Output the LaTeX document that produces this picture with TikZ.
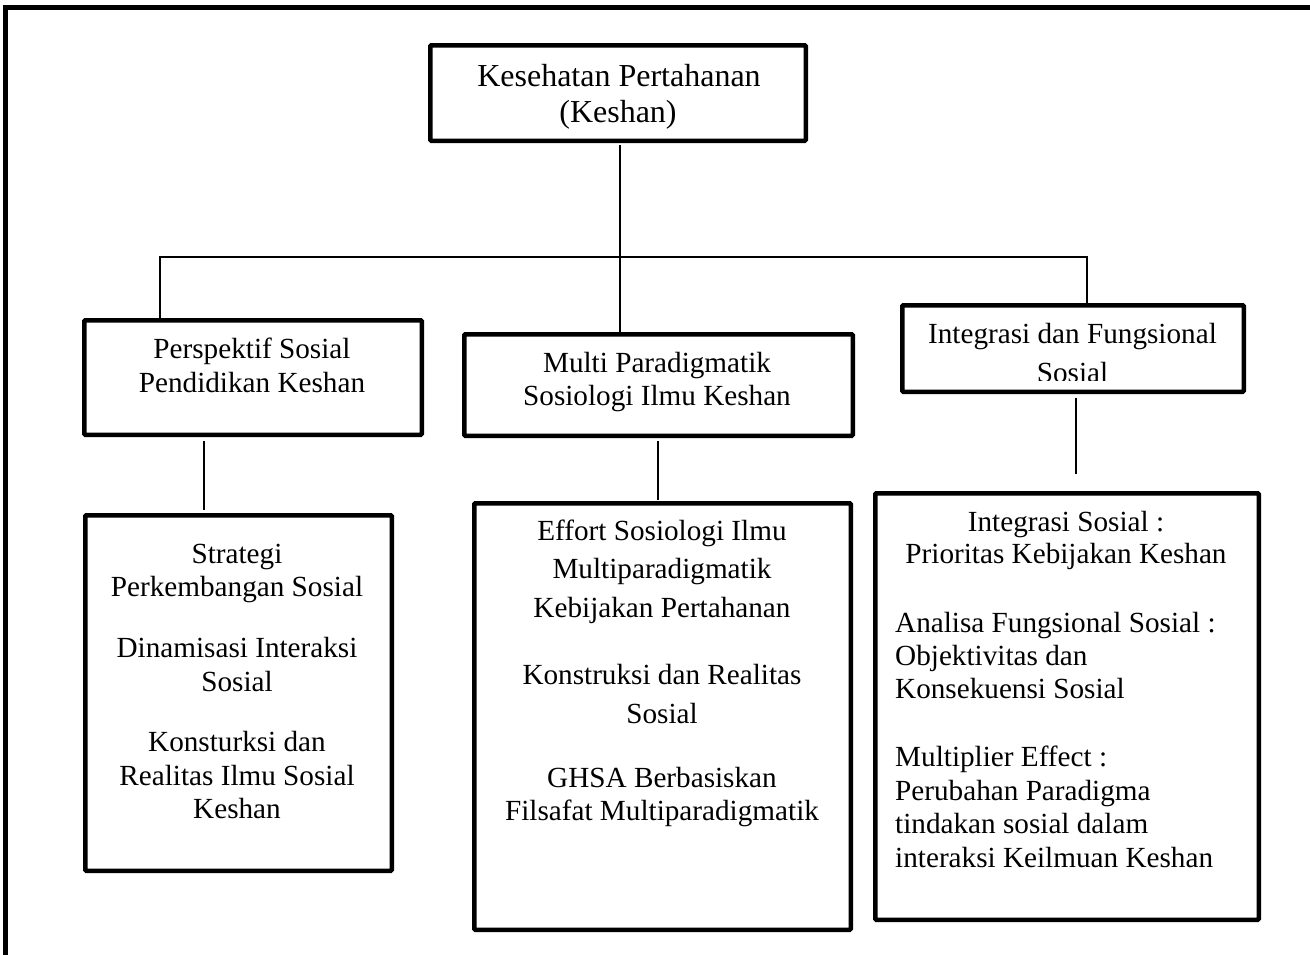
\documentclass[tikz,border=0pt]{standalone}
\usepackage{fontspec}
\setmainfont{Liberation Serif}
\begin{document}
\begin{tikzpicture}[x=1pt,y=-1pt,
  box/.style={draw, line width=4.5pt, rounded corners=1pt, inner sep=0pt, outer sep=0pt},
  conn/.style={line width=1.5pt},
  txt/.style={inner sep=0pt, anchor=base, font=\fontsize{29.2pt}{34pt}\selectfont},
  bigtxt/.style={txt, font=\fontsize{32pt}{37pt}\selectfont},
  ltxt/.style={txt, anchor=base west}]
\useasboundingbox (0,0) rectangle (1310,954);
\clip (0,0) rectangle (1310,954);
\fill[white] (0,0) rectangle (1310,954);
% outer frame (right and bottom edges lie outside the page)
\draw[line width=5pt] (5.5,1000) -- (5.5,7.5) -- (1400,7.5);

% boxes
\node[box, minimum width=375.5pt, minimum height=95.5pt] (top) at (618,93) {};
\node[box, minimum width=337.5pt, minimum height=114.5pt] (p1) at (253,377.5) {};
\node[box, minimum width=388.5pt, minimum height=101.5pt] (p2) at (658.5,385) {};
\node[box, minimum width=341.5pt, minimum height=86.5pt] (p3) at (1073,348.5) {};
\node[box, minimum width=306.5pt, minimum height=355.5pt] (q1) at (238.5,693) {};
\node[box, minimum width=376.5pt, minimum height=426.5pt] (q2) at (662.5,716.5) {};
\node[box, minimum width=383.5pt, minimum height=426.5pt] (q3) at (1067,706.5) {};

% texts
\node[bigtxt] (t0a) at (619,86) {Kesehatan Pertahanan};
\node[bigtxt] (t0b) at (618,122) {(Keshan)};

\node[txt] (t1a) at (252,358) {Perspektif Sosial};
\node[txt] (t1b) at (252,392) {Pendidikan Keshan};

\node[txt] (t2a) at (657,372) {Multi Paradigmatik};
\node[txt] (t2b) at (657,405) {Sosiologi Ilmu Keshan};

\node[txt] (t3a) at (1072.5,343) {Integrasi dan Fungsional};
\begin{scope}
\clip (900,303) rectangle (1246,380);
\node[txt] (t3b) at (1072.5,382) {Sosial};
\end{scope}

\node[txt] (u1a) at (237,563) {Strategi};
\node[txt] (u1b) at (237,596) {Perkembangan Sosial};
\node[txt] (u1c) at (237,657) {Dinamisasi Interaksi};
\node[txt] (u1d) at (237,691) {Sosial};
\node[txt] (u1e) at (237,751) {Konsturksi dan};
\node[txt] (u1f) at (237,785) {Realitas Ilmu Sosial};
\node[txt] (u1g) at (237,818) {Keshan};

\node[txt] (u2a) at (662,540) {Effort Sosiologi Ilmu};
\node[txt] (u2b) at (662,578) {Multiparadigmatik};
\node[txt] (u2c) at (662,617) {Kebijakan Pertahanan};
\node[txt] (u2d) at (662,684) {Konstruksi dan Realitas};
\node[txt] (u2e) at (662,723) {Sosial};
\node[txt] (u2f) at (662,787) {GHSA Berbasiskan};
\node[txt] (u2g) at (662,820) {Filsafat Multiparadigmatik};

\node[txt] (u3a) at (1066,531) {Integrasi Sosial :};
\node[txt] (u3b) at (1066,563) {Prioritas Kebijakan Keshan};
\node[ltxt] (u3c) at (895,632) {Analisa Fungsional Sosial :};
\node[ltxt] (u3d) at (895,665) {Objektivitas dan};
\node[ltxt] (u3e) at (895,698) {Konsekuensi Sosial};
\node[ltxt] (u3f) at (895,766) {Multiplier Effect :};
\node[ltxt] (u3g) at (895,800) {Perubahan Paradigma};
\node[ltxt] (u3h) at (895,833) {tindakan sosial dalam};
\node[ltxt] (u3i) at (895,867) {interaksi Keilmuan Keshan};

% connectors
\coordinate (jl) at (160,257);
\coordinate (jm) at (620,257);
\coordinate (jr) at (1087,257);
\draw[conn] (jl |- p1.north) -- (jl) -- (jr) -- (jr |- p3.north);
\draw[conn, shorten <=4pt] (top.south -| jm) -- (jm |- p2.north);

\coordinate (cl) at (204,0);
\coordinate (cm) at (658,0);
\coordinate (cr) at (1076,0);
\draw[conn, shorten <=6pt, shorten >=5pt] (p1.south -| cl) -- (cl |- q1.north);
\draw[conn, shorten <=5pt, shorten >=3pt] (p2.south -| cm) -- (cm |- q2.north);
\draw[conn, shorten <=6pt, shorten >=19pt] (p3.south -| cr) -- (cr |- q3.north);
\end{tikzpicture}
\end{document}
